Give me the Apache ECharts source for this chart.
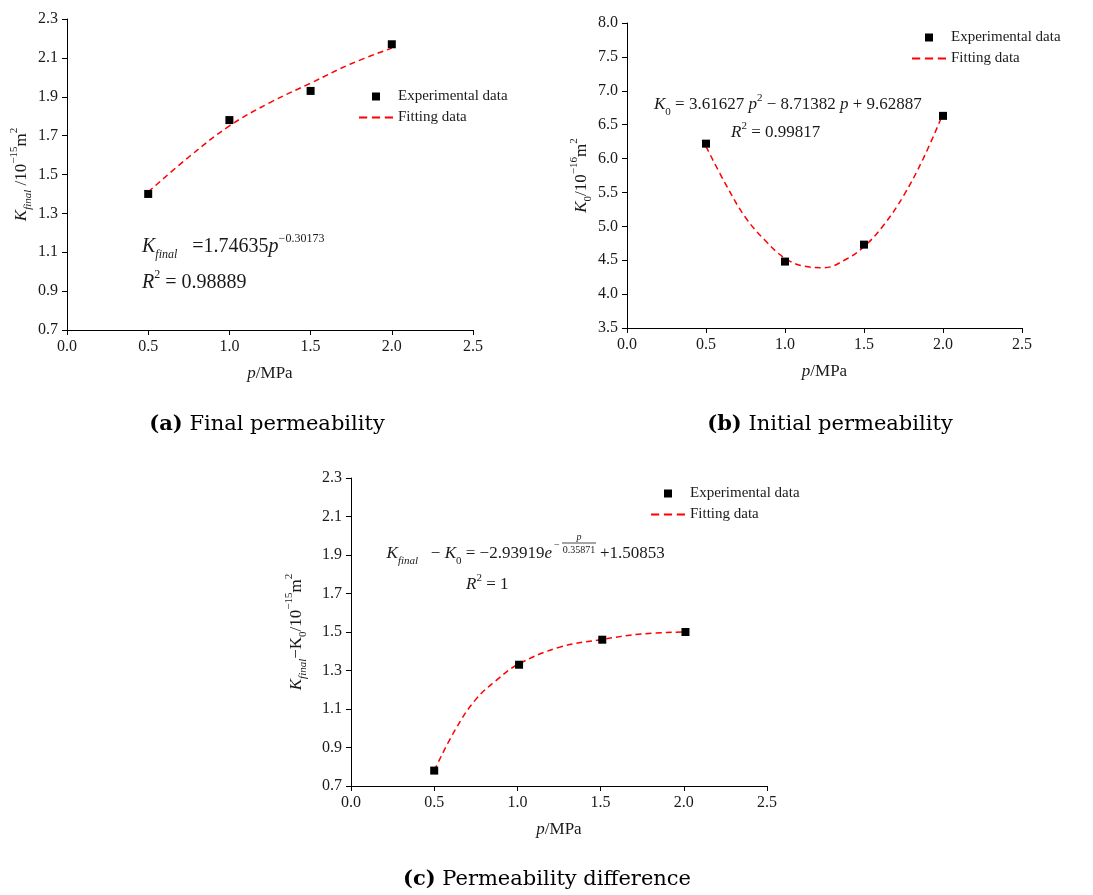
<!DOCTYPE html>
<html>
<head>
<meta charset="utf-8">
<script src="https://cdn.jsdelivr.net/npm/echarts@6/dist/echarts.min.js"></script>
<style>
html,body{margin:0;padding:0;background:#fff}
#main{width:1093px;height:895px}
</style>
</head>
<body>
<div id="main"></div>
<script>
// tick labels
var pTicks = [0.0, 0.5, 1.0, 1.5, 2.0, 2.5];
var kFinalTicks = [0.7, 0.9, 1.1, 1.3, 1.5, 1.7, 1.9, 2.1, 2.3];
var k0Ticks = [3.5, 4.0, 4.5, 5.0, 5.5, 6.0, 6.5, 7.0, 7.5, 8.0];
var diffTicks = [0.7, 0.9, 1.1, 1.3, 1.5, 1.7, 1.9, 2.1, 2.3];

// (a) final permeability
var expPA = [0.5, 1.0, 1.5, 2.0];
var expKFinal = [1.40, 1.78, 1.93, 2.17];
var fitPA = [0.5, 0.75, 1.0, 1.25, 1.5, 1.75, 2.0];
var fitKFinal = [1.41, 1.59, 1.75, 1.87, 1.97, 2.07, 2.15];

// (b) initial permeability
var expPB = [0.5, 1.0, 1.5, 2.0];
var expK0 = [6.22, 4.48, 4.73, 6.63];
var fitPB = [0.5, 0.625, 0.75, 0.875, 1.0, 1.125, 1.25, 1.375, 1.5, 1.625, 1.75, 1.875, 2.0];
var fitK0 = [6.18, 5.62, 5.13, 4.79, 4.53, 4.41, 4.39, 4.50, 4.70, 5.02, 5.45, 6.00, 6.66];

// (c) permeability difference
var expPC = [0.5, 1.01, 1.51, 2.01];
var expDiff = [0.78, 1.33, 1.46, 1.50];
var fitPC = [0.5, 0.625, 0.75, 0.875, 1.0, 1.25, 1.5, 1.75, 2.0];
var fitDiff = [0.78, 0.99, 1.15, 1.25, 1.33, 1.42, 1.46, 1.49, 1.50];

var serif = 'Liberation Serif';
var ink = '#1a1a1a';

function zip(xs, ys) {
	return xs.map(function (x, i) { return [x, ys[i]]; });
}

function richStyles(size) {
	return {
		n: {fontFamily: serif, fontSize: size, color: ink, lineHeight: size + 8, verticalAlign: 'middle'},
		it: {fontFamily: serif, fontStyle: 'italic', fontSize: size, color: ink, lineHeight: size + 8, verticalAlign: 'middle'},
		sub: {fontFamily: serif, fontStyle: 'italic', fontSize: Math.round(size * 0.62), color: ink, lineHeight: Math.round(size * 0.7), verticalAlign: 'bottom'},
		subn: {fontFamily: serif, fontSize: Math.round(size * 0.62), color: ink, lineHeight: Math.round(size * 0.7), verticalAlign: 'bottom'},
		sup: {fontFamily: serif, fontSize: Math.round(size * 0.62), color: ink, lineHeight: Math.round(size * 0.7), verticalAlign: 'top'}
	};
}

function xAxisOf(grid) {
	return {
		type: 'value', gridIndex: grid, min: 0, max: 2.5,
		name: '{it|p}{n|/MPa}', nameLocation: 'middle', nameGap: 31,
		nameTextStyle: {rich: richStyles(17)},
		axisLine: {lineStyle: {color: '#000', width: 1}},
		axisTick: {show: true, length: 5, customValues: pTicks, lineStyle: {color: '#000'}},
		axisLabel: {customValues: pTicks, margin: 9, fontFamily: serif, fontSize: 16, color: ink,
			formatter: function (v) { return v.toFixed(1); }},
		splitLine: {show: false}
	};
}

function yAxisOf(grid, lo, hi, ticks, name, gap) {
	return {
		type: 'value', gridIndex: grid, min: lo, max: hi,
		name: name, nameLocation: 'middle', nameGap: gap, nameRotate: 90,
		nameTextStyle: {rich: richStyles(17)},
		axisLine: {show: true, lineStyle: {color: '#000', width: 1}},
		axisTick: {show: true, length: 5, customValues: ticks, lineStyle: {color: '#000'}},
		axisLabel: {customValues: ticks, margin: 9, fontFamily: serif, fontSize: 16, color: ink,
			formatter: function (v) { return v.toFixed(1); }},
		splitLine: {show: false}
	};
}

function expSeries(idx, xs, ys) {
	return {
		name: 'Experimental data', type: 'scatter', xAxisIndex: idx, yAxisIndex: idx,
		symbol: 'rect', symbolSize: 8, itemStyle: {color: '#000', opacity: 1}, z: 3,
		data: zip(xs, ys)
	};
}

function fitSeries(idx, xs, ys) {
	return {
		name: 'Fitting data', type: 'line', xAxisIndex: idx, yAxisIndex: idx,
		smooth: 0.4, showSymbol: false, symbol: 'none',
		itemStyle: {color: '#ff0000'},
		lineStyle: {color: '#ff0000', width: 1.5, type: [6, 4]},
		data: zip(xs, ys)
	};
}

function legendAt(left, top) {
	return {
		left: left, top: top, orient: 'vertical', padding: 0, itemGap: 6,
		itemWidth: 34, itemHeight: 8, selectedMode: false, symbolKeepAspect: true,
		textStyle: {fontFamily: serif, fontSize: 15, color: ink},
		data: [
			{name: 'Experimental data', icon: 'path://M0,0h8v8h-8z', itemStyle: {color: '#000', opacity: 1}},
			{name: 'Fitting data', icon: 'path://M0,0h7v1.6h-7zM11,0h7v1.6h-7zM22,0h7v1.6h-7z', itemStyle: {color: '#ff0000'}}
		]
	};
}

function label(x, y, text, size, align) {
	return {
		type: 'text', x: x, y: y,
		style: {text: text, rich: richStyles(size), align: align || 'left', verticalAlign: 'middle',
			fontFamily: serif, fontSize: size, fill: ink}
	};
}

function caption(x, y, tag, text) {
	return {
		type: 'text', x: x, y: y,
		style: {
			text: '{b|(' + tag + ')}{t| ' + text + '}',
			align: 'center', verticalAlign: 'middle',
			rich: {
				b: {fontFamily: 'DejaVu Serif', fontWeight: 'bold', fontSize: 21, color: '#222'},
				t: {fontFamily: 'DejaVu Serif', fontSize: 21, color: '#222'}
			}
		}
	};
}

var chart = echarts.init(document.getElementById('main'));
chart.setOption({
	animation: false,
	backgroundColor: '#fff',
	grid: [
		{left: 67, top: 19, width: 406, height: 311, outerBoundsMode: 'none'},
		{left: 627, top: 23, width: 395, height: 305, outerBoundsMode: 'none'},
		{left: 351, top: 478, width: 416, height: 308, outerBoundsMode: 'none'}
	],
	xAxis: [xAxisOf(0), xAxisOf(1), xAxisOf(2)],
	yAxis: [
		yAxisOf(0, 0.7, 2.3, kFinalTicks, '{it|K}{sub|final}{n| /10}{sup|−15}{n|m}{sup|2}', 33),
		yAxisOf(1, 3.5, 8.0, k0Ticks, '{it|K}{subn|0}{n|/10}{sup|−16}{n|m}{sup|2}', 31),
		yAxisOf(2, 0.7, 2.3, diffTicks, '{it|K}{sub|final}{n|−K}{subn|0}{n|/10}{sup|−15}{n|m}{sup|2}', 42)
	],
	legend: [legendAt(359, 89), legendAt(912, 30), legendAt(651, 486)],
	series: [
		fitSeries(0, fitPA, fitKFinal), expSeries(0, expPA, expKFinal),
		fitSeries(1, fitPB, fitK0), expSeries(1, expPB, expK0),
		fitSeries(2, fitPC, fitDiff), expSeries(2, expPC, expDiff)
	],
	graphic: [
		label(142, 247, '{it|K}{sub|final}{n|   =1.74635}{it|p}{sup|−0.30173}', 20),
		label(142, 283, '{it|R}{sup|2}{n| = 0.98889}', 20),
		label(654, 105, '{it|K}{subn|0}{n| = 3.61627 }{it|p}{sup|2}{n| − 8.71382 }{it|p}{n| + 9.62887}', 17),
		label(731, 133, '{it|R}{sup|2}{n| = 0.99817}', 17),
		label(552, 554, '{it|K}{sub|final}{n|   − }{it|K}{subn|0}{n| = −2.93919}{it|e}', 17, 'right'),
		label(554, 545, '{n|−}', 10),
		label(579, 537, '{it|p}', 10, 'center'),
		{type: 'line', shape: {x1: 562, y1: 543, x2: 596, y2: 543}, style: {stroke: ink, lineWidth: 0.8}},
		label(579, 550, '{n|0.35871}', 10, 'center'),
		label(600, 554, '{n|+1.50853}', 17),
		label(466, 585, '{it|R}{sup|2}{n| = 1}', 17),
		caption(267, 425, 'a', 'Final permeability'),
		caption(830, 425, 'b', 'Initial permeability'),
		caption(547, 880, 'c', 'Permeability difference')
	]
});
</script>
</body>
</html>
